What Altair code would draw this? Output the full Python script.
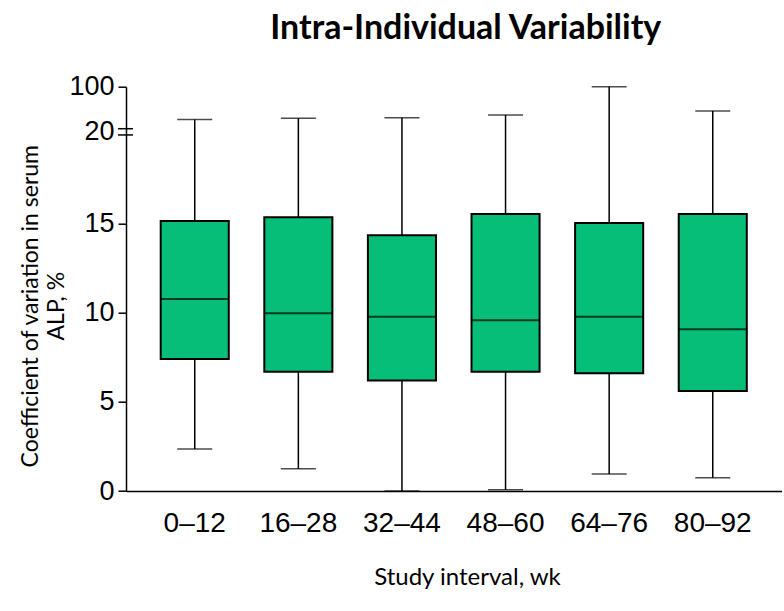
import altair as alt
import pandas as pd

# ---- data ----
intervals = ["0–12", "16–28", "32–44", "48–60", "64–76", "80–92"]
whisker_low = [2.36, 1.25, 0.0, 0.07, 0.96, 0.75]
q1 = [7.42, 6.70, 6.20, 6.70, 6.61, 5.62]
median = [10.79, 9.98, 9.79, 9.59, 9.79, 9.08]
q3 = [15.17, 15.38, 14.37, 15.56, 15.06, 15.56]
whisker_high = [42, 44, 45, 50, 100, 57]

break_marks = [20.0, 20.35]  # positions (in display units) of the "=" axis break symbol

df = pd.DataFrame({
    "interval": intervals,
    "lo": whisker_low,
    "q1": q1,
    "med": median,
    "q3": q3,
    "hi": whisker_high,
})

# broken axis: linear 0-20, then compressed segment 20-100
BREAK_EXPR = "datum.{f} <= 20 ? datum.{f} : 20.17 + (datum.{f} - 20) * 0.03175"

base = alt.Chart(df).transform_calculate(
    lo_d=BREAK_EXPR.format(f="lo"),
    hi_d=BREAK_EXPR.format(f="hi"),
)

x_enc = alt.X(
    "interval:N",
    sort=intervals,
    scale=alt.Scale(paddingInner=0.343, paddingOuter=0.335),
    axis=alt.Axis(
        ticks=False, labelAngle=0, domainColor="black", domainWidth=1.5,
        labelFont="Liberation Sans", labelFontSize=28, labelColor="black",
        labelPadding=18,
        title="Study interval, wk", titleFont="Lato", titleFontSize=24,
        titleFontWeight="normal", titleColor="black", titlePadding=28,
        titleX=341, titleAlign="center",
    ),
)

y_scale = alt.Scale(domain=[0, 22.71], nice=False, zero=True)
y_axis = alt.Axis(
    values=[0, 5, 10, 15, 20.17, 22.71],
    labelExpr="datum.value > 22 ? '100' : datum.value > 20 ? '20' : datum.label",
    tickColor={"condition": {"test": "datum.value > 20 && datum.value < 21", "value": "transparent"}, "value": "black"},
    tickSize=8, tickWidth=1.5, domainColor="black", domainWidth=1.5,
    labelFont="Liberation Sans", labelFontSize=27, labelColor="black", labelPadding=4,
    title=["Coefficient of variation in serum", "ALP, %"],
    titleFont="Lato", titleFontSize=23, titleFontWeight="normal", titleColor="black",
    titlePadding=0, titleLineHeight=26, titleY=219, grid=False,
)

whisker = base.mark_rule(color="black", strokeWidth=1.5).encode(
    x=x_enc,
    y=alt.Y("lo_d:Q", scale=y_scale, axis=y_axis),
    y2="hi_d:Q",
)

cap_lo = base.mark_tick(color="black", size=35, thickness=1.5).encode(
    x=alt.X("interval:N", sort=intervals), y=alt.Y("lo_d:Q")
)
cap_hi = base.mark_tick(color="black", size=35, thickness=1.5).encode(
    x=alt.X("interval:N", sort=intervals), y=alt.Y("hi_d:Q")
)

box = base.mark_bar(fill="#06BE78", stroke="black", strokeWidth=2).encode(
    x=alt.X("interval:N", sort=intervals),
    y=alt.Y("q1:Q"),
    y2="q3:Q",
)

med = base.mark_tick(color="black", size=68, thickness=2).encode(
    x=alt.X("interval:N", sort=intervals), y=alt.Y("med:Q")
)

brk = alt.Chart(pd.DataFrame({"b": break_marks})).mark_rule(
    color="black", strokeWidth=1.5
).encode(
    y=alt.Y("b:Q"),
    x=alt.value(-8),
    x2=alt.value(7),
)

chart = alt.layer(whisker, box, med, cap_lo, cap_hi, brk).properties(
    width=655.5,
    height=404.3,
    padding={"left": 126, "top": 86.7, "right": 2, "bottom": 120},
    autosize="none",
    title=alt.TitleParams(
        "Intra-Individual Variability", font="Lato", fontSize=34,
        fontWeight="bold", color="black", anchor="middle", dx=12, dy=9,
        baseline="alphabetic", offset=9,
    ),
).configure(
    background="white",
    view=alt.ViewConfig(stroke=None),
)

chart.save("out.html", embed_options={"renderer": "svg", "actions": False})
